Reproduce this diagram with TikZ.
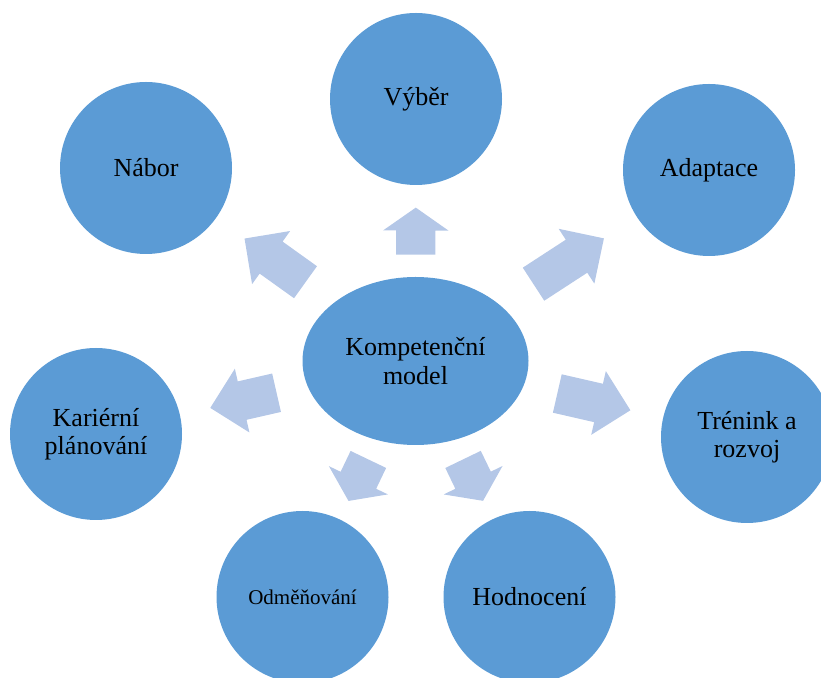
\documentclass[tikz,border=0pt]{standalone}
\usepackage{fontspec}
\setmainfont{Liberation Serif}
\usepackage{tikz}
\usetikzlibrary{shapes.geometric, shapes.arrows, positioning}
\definecolor{circblue}{HTML}{5B9BD5}
\definecolor{arrowblue}{HTML}{B4C7E7}
\tikzset{
  area/.style={circle, fill=circblue, minimum size=172pt, inner sep=0pt,
               text centered, align=center, font=\fontsize{26}{28.5}\selectfont},
  core/.style={ellipse, fill=circblue, minimum width=226pt, minimum height=168pt,
               inner sep=0pt, align=center, font=\fontsize{26}{28.5}\selectfont},
  spoke/.style={single arrow, fill=arrowblue, minimum width=65pt,
                single arrow head extend=13pt, inner xsep=0pt, inner ysep=19.5pt,
                sloped, allow upside down, anchor=tail, pos=0.24},
  short/.style={single arrow tip angle=110}
}

\begin{document}
\begin{tikzpicture}[x=1pt, y=1pt]
    \useasboundingbox (0,0) rectangle (821,677);
    \clip (0,0) rectangle (821,677);
    \node[core] (model) at (415.5,316) {Kompetenční\\ model};
    \node[area] (vyber)     at (416,578)   {Výběr};
    \node[area] (nabor)     at (146,509)   {Nábor};
    \node[area] (adaptace)  at (709,507)   {Adaptace};
    \node[area] (kariera)   at (96,243)    {Kariérní\\ plánování};
    \node[area] (trenink)   at (747,240)   {Trénink a\\ rozvoj};
    \node[area, font=\fontsize{21}{24}\selectfont] (odmena) at (302.5,80) {Odměňování};
    \node[area] (hodnoceni) at (529.5,80)  {Hodnocení};

    \path (model) -- node[spoke, short, minimum height=47pt] (toVyber) {} (vyber);
    \path (model) -- node[spoke, minimum height=75pt] (toNabor) {} (nabor);
    \path (model) -- node[spoke, minimum height=84pt] (toAdaptace) {} (adaptace);
    \path (model) -- node[spoke, minimum height=68pt] (toKariera) {} (kariera);
    \path (model) -- node[spoke, minimum height=75pt] (toTrenink) {} (trenink);
    \path (model) -- node[spoke, short, minimum height=46pt] (toOdmena) {} (odmena);
    \path (model) -- node[spoke, short, minimum height=46pt] (toHodnoceni) {} (hodnoceni);
\end{tikzpicture}
\end{document}
